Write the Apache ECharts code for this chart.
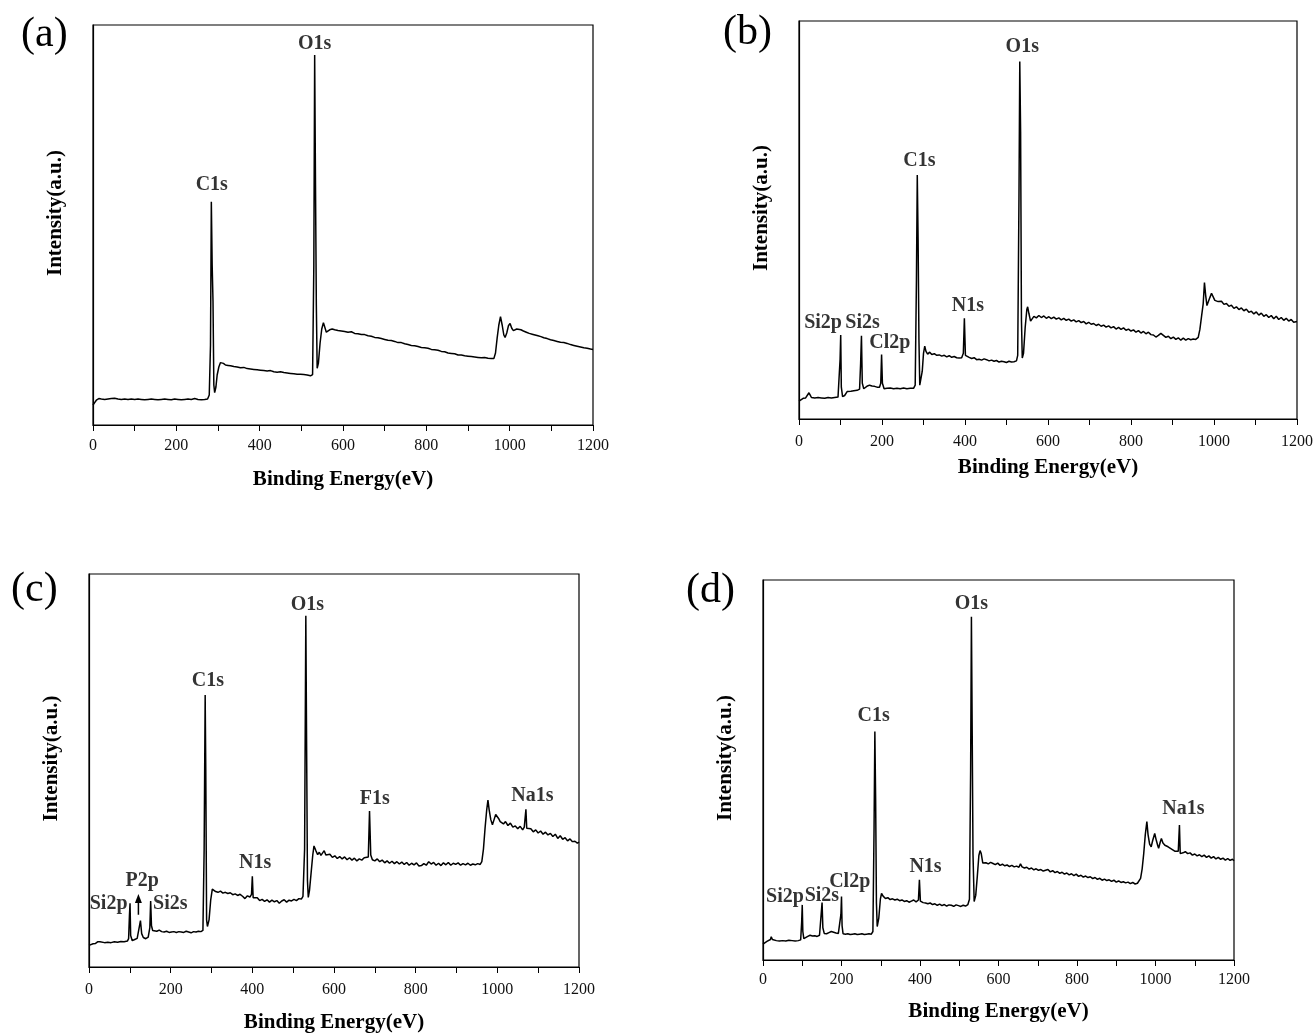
<!DOCTYPE html>
<html>
<head>
<meta charset="utf-8">
<script src="https://cdn.jsdelivr.net/npm/echarts@6.0.0/dist/echarts.min.js"></script>
<style>
html,body{margin:0;padding:0;background:#fff;}
#chart{width:1316px;height:1034px;}
</style>
</head>
<body>
<div id="chart"></div>
<script>
// ---------------- DATA ----------------
const xTicks = [0, 200, 400, 600, 800, 1000, 1200];

// Panel (a)
const energyA = [0,4,8,14,20,28,36,44,52,60,68,76,84,92,100,108,116,124,132,140,148,156,164,172,180,188,196,204,212,220,228,236,244,252,260,268,275,279,282,284,286,288,290,292,295,298,302,306,309,313,318,324,330,338,346,354,362,370,378,386,394,402,410,418,426,434,442,450,458,466,474,482,490,498,506,514,522,527,530,532,534,536,538,541,545,549,553,556,560,564,568,574,580,588,596,604,612,620,628,636,644,652,660,668,676,684,692,700,708,716,724,732,740,748,756,764,772,780,788,796,804,812,820,828,836,844,852,860,868,876,884,892,900,908,916,924,932,940,948,956,962,966,970,974,978,982,986,989,993,997,1001,1005,1009,1013,1017,1021,1027,1033,1040,1047,1054,1061,1068,1075,1082,1090,1098,1106,1114,1122,1130,1138,1146,1154,1162,1170,1178,1186,1194,1200];
const intensityA = [5.0,5.6,6.2,6.6,6.5,6.4,6.5,6.6,6.7,6.5,6.4,6.5,6.4,6.5,6.4,6.5,6.4,6.3,6.4,6.5,6.4,6.3,6.4,6.5,6.4,6.3,6.5,6.4,6.3,6.4,6.5,6.4,6.6,6.4,6.3,6.4,6.5,7.5,20,55.8,40,31,10,8.1,9.5,12.5,14.5,15.6,16.0,15.4,15.0,14.9,14.8,14.6,14.5,14.3,14.4,14.1,14.0,13.9,13.8,13.7,13.6,13.5,13.6,13.3,13.2,13.3,13.1,13.0,12.9,12.8,12.7,12.7,12.6,12.5,12.3,12.6,40,92.5,60,30,14.2,15.5,20.5,24.0,25.6,25.3,23.2,22.9,23.8,24.0,23.8,23.6,23.5,23.4,23.2,23.3,22.9,22.8,22.6,22.6,22.3,22.2,21.9,21.8,21.6,21.4,21.2,21.1,20.9,20.6,20.6,20.3,20.1,19.9,19.8,19.6,19.4,19.3,19.2,18.9,18.8,18.7,18.4,18.3,18.0,17.9,17.8,17.5,17.5,17.3,17.2,17.1,17.0,16.9,16.8,16.9,16.7,16.6,16.6,18.0,21.8,25.0,27.1,25.0,22.5,21.9,23.0,24.8,25.4,24.2,23.6,23.7,24.0,24.2,23.8,23.5,23.2,22.9,22.7,22.5,22.3,22.1,21.8,21.6,21.3,21.1,20.9,20.7,20.6,20.4,20.1,19.9,19.7,19.5,19.3,19.2,19.0,18.9];
const peakNamesA = ['C1s', 'O1s'];
const peakLabelEnergyA = [285, 532];
const peakLabelHeightA = [60, 95.3];

// Panel (b)
const energyB = [0,4,10,16,20,24,27,30,38,46,54,62,70,78,86,94,97,99,100.5,102,105,110,116,120,125,132,140,146,148.5,150.5,152.5,156,160,165,170,176,182,188,194,197,199,201,205,212,220,228,236,244,252,260,268,276,280,283,285,287,289,291,294,297,300,303,306,310,315,320,326,332,338,344,350,356,362,368,374,380,386,392,396,398.5,401,404,410,416,422,428,434,440,446,452,458,464,470,476,482,488,494,500,506,512,518,524,527,530,532,534,536,538,541,545,549,551,554,558,562,566,572,578,584,590,596,602,608,614,620,626,632,638,644,650,656,662,668,674,680,686,692,698,704,710,716,722,728,734,740,746,752,758,764,770,776,782,788,794,800,806,812,818,824,830,836,842,848,854,860,866,872,878,884,890,896,902,908,914,920,926,932,938,944,950,956,962,966,970,974,977,980,983,986,990,994,998,1002,1006,1010,1014,1018,1024,1030,1036,1042,1048,1054,1060,1066,1072,1078,1084,1090,1096,1102,1108,1114,1120,1126,1132,1138,1144,1150,1156,1162,1168,1174,1180,1186,1192,1200];
const intensityB = [4.5,5.0,5.2,5.3,5.6,6.6,6.0,5.4,5.3,5.4,5.3,5.2,5.4,5.3,5.4,5.5,5.8,15,21.1,8,5.6,5.9,6.9,7.4,7.0,7.1,7.2,7.5,14,20.9,9,7.6,7.2,8.3,8.5,8.3,8.2,8.0,8.0,9.0,16.2,9.0,7.6,7.7,7.8,7.6,7.7,7.6,7.8,7.6,7.7,7.7,8.5,35,61.3,45,20,8.5,8.6,12,16.5,18.3,17.0,16.3,16.8,16.2,16.4,16.0,16.1,15.8,16.0,15.6,15.9,15.5,15.7,15.4,15.3,15.4,16.5,25.3,16.0,15.6,15.5,15.2,15.4,14.9,15.0,14.8,15.1,14.9,14.6,14.8,14.5,14.7,14.3,14.5,14.4,14.2,14.5,14.3,14.4,14.6,16,55,89.8,72,25,15.3,16.5,23,27.5,28.2,26.5,24.6,24.8,25.8,25.4,26.0,25.5,25.9,25.3,25.7,25.2,25.6,25.1,25.4,24.9,25.3,24.8,25.1,24.6,24.9,24.4,24.7,24.2,24.5,23.9,24.3,23.8,24.0,23.5,23.8,23.3,23.6,23.1,23.4,22.9,23.2,22.6,23.0,22.5,22.9,22.3,22.6,22.1,22.4,21.8,22.2,21.6,22.0,21.4,21.8,21.2,21.1,20.6,21.0,21.5,21.0,20.5,20.8,20.2,20.6,20.0,20.4,19.8,20.3,19.8,20.2,19.9,20.1,20.0,20.5,22.5,25.8,29,34.3,31,28.5,29.0,30.5,31.6,31.2,29.8,30.2,29.5,29.2,29.6,28.8,29.0,28.3,28.6,27.8,28.2,27.5,27.9,27.2,27.6,26.8,27.1,26.4,26.9,26.1,26.6,25.8,26.2,25.5,26.0,25.2,25.8,25.0,25.5,24.8,25.3,24.6,25.0,24.3,24.5];
const peakNamesB = ['Si2p', 'Si2s', 'Cl2p', 'C1s', 'N1s', 'O1s'];
const peakLabelEnergyB = [58, 153, 219, 290, 407, 538];
const peakLabelHeightB = [24.1, 24.1, 19.1, 64.9, 28.4, 93.6];

// Panel (c)
const energyC = [0,4,10,16,21,24,27,31,38,46,54,62,70,78,86,94,97,99,100.5,102,106,112,118,122,126,129,133,139,145,149,151,153,156,160,166,172,178,184,190,196,202,208,214,220,226,232,238,244,250,256,262,268,274,279,282,284.5,286,288,290,294,298,302,306,310,316,322,328,334,340,346,352,358,364,370,376,382,388,394,398,400,402,406,412,418,424,430,436,442,448,454,460,466,472,478,484,490,496,502,508,514,520,524,528,531,533,535,537,540,544,548,551,553,556,560,564,568,572,576,580,584,590,596,602,608,614,620,626,632,638,644,650,656,662,668,674,678,684,687,690,694,700,706,712,718,724,730,736,742,748,754,760,766,772,778,784,790,796,802,808,814,820,826,832,838,844,850,856,862,868,874,880,886,892,898,904,910,916,922,928,934,940,946,952,958,962,966,970,974,977,980,984,988,992,996,999,1003,1007,1011,1015,1020,1026,1032,1038,1044,1050,1056,1062,1066,1070,1072,1076,1082,1088,1094,1100,1106,1112,1118,1124,1130,1136,1142,1148,1154,1160,1166,1172,1178,1184,1190,1196,1200];
const intensityC = [5.5,5.8,5.9,6.0,6.4,6.9,6.4,6.1,6.2,6.3,6.2,6.4,6.3,6.5,6.4,6.6,7.2,13,16.2,8,6.7,7.0,7.3,7.8,11.8,8.5,7.5,7.2,7.6,10,16.8,10.5,9.3,9.0,9.1,9.4,9.0,8.9,9.1,8.8,8.9,9.0,8.8,9.0,8.9,8.8,9.1,8.9,8.7,9.0,8.9,9.1,9.0,9.3,30,69.2,50,12,10.3,12,17,19.8,20.0,19.2,19.0,19.3,18.8,19.0,18.7,18.9,18.4,18.6,18.2,18.5,18.0,17.4,18.1,17.8,18.5,23.1,17.6,17.3,17.6,16.9,17.2,16.7,17.1,16.5,17.0,16.6,16.9,16.2,16.8,17.1,16.5,17.0,16.8,17.2,16.9,17.4,17.3,18.0,30,89.4,55,22,17.7,19.5,24,28.5,30.8,31.3,29.5,28.6,29.2,28.4,28.9,29.6,28.5,28.2,28.7,27.9,28.3,27.6,28.1,27.5,28.0,27.3,27.8,27.2,27.7,27.0,27.5,27.2,27.8,27.4,28.0,39.7,28.5,27.3,27.0,27.5,26.8,27.2,26.5,27.0,26.4,26.9,26.3,26.8,26.2,26.7,26.1,26.6,25.9,26.4,26.0,26.5,25.7,25.8,26.3,25.9,26.8,26.2,26.6,25.9,26.4,25.8,26.5,26.0,26.6,25.9,26.4,26.1,26.5,25.9,26.3,26.0,26.4,25.9,26.2,26.0,26.3,26.1,26.8,30,35.4,40,42.5,40,37.5,36.2,37.5,38.8,39.1,37.8,37.0,37.2,36.4,37.0,36.0,36.6,35.6,35.9,35.2,35.8,34.9,35.6,40.1,35.3,34.8,35.2,34.4,34.9,34.1,34.6,33.8,34.3,33.6,34.0,33.2,33.8,32.7,33.4,32.5,32.9,32.1,32.6,31.9,32.0,31.5,31.8];
const peakNamesC = ['Si2p', 'P2p', 'Si2s', 'C1s', 'N1s', 'O1s', 'F1s', 'Na1s'];
const peakLabelEnergyC = [48, 130, 199, 291, 407, 535, 700, 1086];
const peakLabelHeightC = [16.0, 21.9, 16.0, 72.8, 26.5, 92.2, 42.9, 43.6];
const arrowEnergyC = [121, 121];
const arrowHeightC = [13.3, 17.4];

// Panel (d)
const energyD = [0,4,10,15,19,21,24,28,34,42,50,58,66,74,82,90,96,98.5,100,101.5,104,108,114,120,126,132,138,144,148,150.5,152.5,156,162,168,174,180,186,192,196,198.5,200,201.5,204,210,216,222,228,234,240,246,252,258,264,270,276,280,283,285,287,289,291,295,299,302,306,312,318,324,330,336,342,348,354,360,366,372,378,384,390,396,398.5,401,404,408,414,420,426,432,438,444,450,456,462,468,474,480,486,492,498,504,510,516,522,526,529,531,533,535,538,542,546,550,553,556,560,564,568,574,580,586,592,598,604,610,616,622,628,634,640,646,652,656,660,666,672,678,684,690,696,702,708,714,720,726,732,738,744,750,756,762,768,774,780,786,792,798,804,810,816,822,828,834,840,846,852,858,864,870,876,882,888,894,900,906,912,918,924,930,936,942,948,954,958,962,966,970,974,978,981,985,989,993,998,1002,1006,1008,1012,1015,1019,1024,1028,1032,1038,1044,1050,1055,1058,1061,1063,1066,1070,1076,1082,1088,1094,1100,1106,1112,1118,1124,1130,1136,1142,1148,1154,1160,1166,1172,1178,1184,1190,1196,1200];
const intensityD = [4.2,4.6,4.9,5.0,5.4,6.1,5.4,5.0,5.1,5.0,5.1,5.0,5.2,5.1,5.0,5.1,5.3,10,14.5,7.5,5.6,5.8,6.2,6.5,6.3,6.4,6.2,6.5,7.0,15.1,8.5,7.0,6.9,7.2,7.5,7.3,7.1,7.0,7.3,12,16.7,9,6.9,6.8,6.9,6.7,6.8,6.9,6.7,6.8,6.9,6.7,6.8,6.9,6.8,7.5,35,60.1,42,15,8.8,11,16,17.5,16.8,16.2,16.4,15.9,16.1,15.8,16.0,15.6,15.8,15.4,15.6,15.2,15.5,15.8,15.3,15.8,21.1,15.5,15.4,15.1,15.0,14.8,15.0,14.6,14.8,14.4,14.7,14.3,14.6,14.2,14.5,14.4,14.1,14.5,14.3,14.1,14.4,14.2,14.6,16,50,90.3,60,28,15.4,17,22,27.5,28.8,28.0,25.5,25.0,25.6,25.3,25.7,25.4,25.1,25.5,24.9,25.2,24.8,25.0,24.6,24.9,24.5,24.7,24.4,25.3,24.5,24.2,24.4,23.9,24.2,23.7,24.0,23.6,23.8,23.4,23.6,23.8,23.2,23.5,23.0,23.3,22.8,23.1,22.6,22.9,22.4,22.7,22.2,22.6,22.0,22.3,21.8,22.1,21.7,21.9,21.4,21.7,21.2,21.5,21.0,21.3,20.9,21.1,20.7,21.0,20.5,20.8,20.4,20.6,20.3,20.5,20.1,20.4,20.0,20.2,20.3,21.5,24,28,33,36.4,33,30.5,29.8,31.5,33.3,31.5,30.0,29.4,31.0,32.0,30.8,30.2,30.6,29.8,29.4,29.0,28.6,28.3,28.6,35.5,28.0,27.6,28.2,28.5,28.0,28.2,27.6,27.9,27.4,27.7,27.2,27.6,27.0,27.4,26.8,27.2,26.6,27.0,26.5,26.8,26.3,26.7,26.2,26.5,26.1];
const peakNamesD = ['Si2p', 'Si2s', 'Cl2p', 'C1s', 'N1s', 'O1s', 'Na1s'];
const peakLabelEnergyD = [56, 150, 221, 282, 414, 531, 1071];
const peakLabelHeightD = [16.7, 16.8, 20.6, 64.2, 24.6, 93.6, 39.9];

const panelLetters = ['(a)', '(b)', '(c)', '(d)'];
const xAxisName = 'Binding Energy(eV)';
const yAxisName = 'Intensity(a.u.)';

// ---------------- LAYOUT ----------------
const FONT = '"Liberation Serif", "Times New Roman", Times, serif';
const layouts = [
  {left: 93,  top: 25,  width: 500, height: 400, labelMargin: 13, nameGap: 44, letter: [45, 38]},
  {left: 799, top: 21,  width: 498, height: 398, labelMargin: 15, nameGap: 38, letter: [747, 36]},
  {left: 89,  top: 574, width: 490, height: 396, labelMargin: 15, nameGap: 45, letter: [35, 593]},
  {left: 763, top: 580, width: 471, height: 380, labelMargin: 12, nameGap: 41, letter: [710, 594]}
];
const panels = [
  {e: energyA, v: intensityA, pn: peakNamesA, pe: peakLabelEnergyA, ph: peakLabelHeightA},
  {e: energyB, v: intensityB, pn: peakNamesB, pe: peakLabelEnergyB, ph: peakLabelHeightB},
  {e: energyC, v: intensityC, pn: peakNamesC, pe: peakLabelEnergyC, ph: peakLabelHeightC,
   arrow: [[arrowEnergyC[0], arrowHeightC[0]], [arrowEnergyC[1], arrowHeightC[1]]]},
  {e: energyD, v: intensityD, pn: peakNamesD, pe: peakLabelEnergyD, ph: peakLabelHeightD}
];

const grid = [], xAxis = [], yAxis = [], series = [], graphic = [];
panels.forEach((p, i) => {
  const L = layouts[i];
  grid.push({left: L.left, top: L.top, width: L.width, height: L.height,
    show: true, borderColor: '#000', borderWidth: 1.2, backgroundColor: 'transparent'});
  xAxis.push({
    type: 'value', gridIndex: i, min: 0, max: 1200, interval: 100,
    name: xAxisName, nameLocation: 'middle', nameGap: L.nameGap,
    nameTextStyle: {fontFamily: FONT, fontWeight: 'bold', fontSize: 21, color: '#000'},
    axisLine: {show: true, onZero: false, lineStyle: {color: '#000', width: 1.2}},
    axisTick: {show: true, inside: false, length: 6, lineStyle: {color: '#000', width: 1}},
    axisLabel: {show: true, margin: L.labelMargin, fontFamily: FONT, fontSize: 16, color: '#111',
      formatter: v => (xTicks.indexOf(v) >= 0 ? String(v) : '')},
    splitLine: {show: false}
  });
  yAxis.push({
    type: 'value', gridIndex: i, min: 0, max: 100,
    name: yAxisName, nameLocation: 'middle', nameGap: 27, nameRotate: 90,
    nameTextStyle: {fontFamily: FONT, fontWeight: 'bold', fontSize: 21, color: '#000', padding: [0, 0, 0, 24]},
    axisLine: {show: true, lineStyle: {color: '#000', width: 1.2}},
    axisTick: {show: false}, axisLabel: {show: false}, splitLine: {show: false}
  });
  series.push({
    type: 'line', xAxisIndex: i, yAxisIndex: i,
    data: p.e.map((x, k) => [x, p.v[k]]),
    showSymbol: false, symbol: 'none', smooth: false, sampling: 'none',
    lineStyle: {color: '#000', width: 1.5}, silent: true, z: 3
  });
  if (p.arrow) {
    series.push({
      type: 'line', xAxisIndex: i, yAxisIndex: i, silent: true, z: 4,
      showSymbol: true, showAllSymbol: true,
      lineStyle: {color: '#000', width: 1.5},
      itemStyle: {color: '#000', borderWidth: 0},
      data: [
        {value: p.arrow[0], symbol: 'none'},
        {value: p.arrow[1], symbol: 'triangle', symbolSize: [7, 9]}
      ]
    });
  }
  series.push({
    type: 'scatter', xAxisIndex: i, yAxisIndex: i, silent: true, symbolSize: 1,
    itemStyle: {color: 'rgba(0,0,0,0)'},
    data: p.pn.map((n, k) => ({name: n, value: [p.pe[k], p.ph[k]]})),
    label: {show: true, position: 'inside', formatter: '{b}', fontFamily: FONT,
      fontWeight: 'bold', fontSize: 20, color: '#000'},
    z: 5
  });
  graphic.push({type: 'text', left: L.letter[0] - 24, top: L.letter[1] - 24,
    style: {text: panelLetters[i], font: '42px ' + FONT, fill: '#000'}});
});

const chart = echarts.init(document.getElementById('chart'), null, {renderer: 'canvas'});
chart.setOption({animation: false, backgroundColor: '#fff', grid, xAxis, yAxis, series, graphic});
</script>
</body>
</html>
